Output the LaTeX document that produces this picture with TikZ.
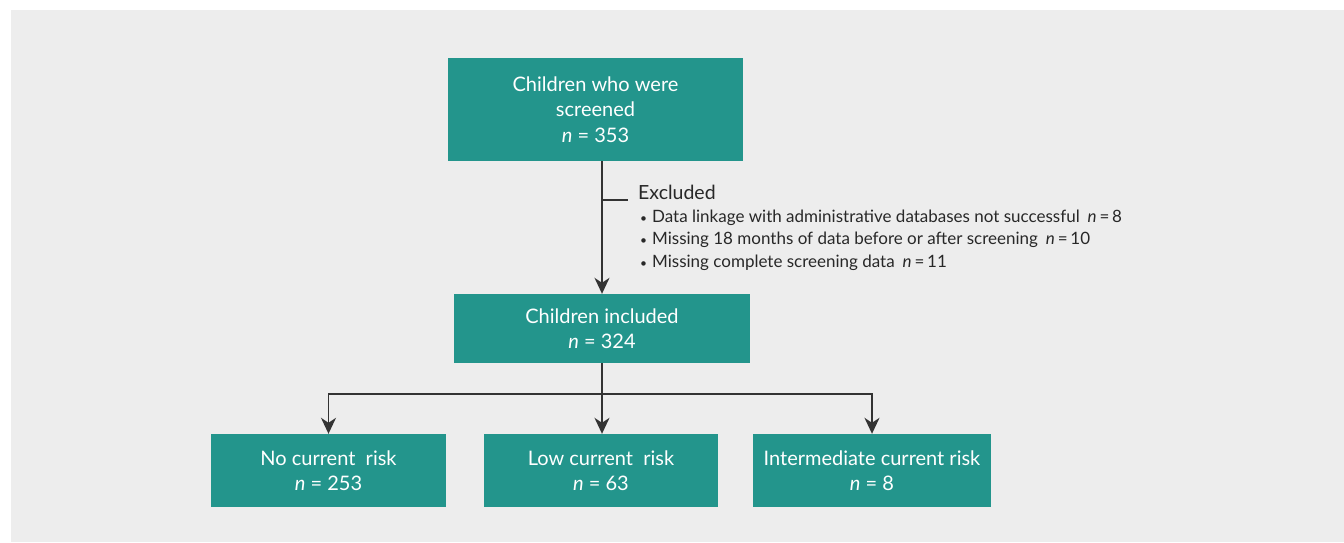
\documentclass[tikz,border=0pt]{standalone}
\usepackage{fontspec}
\setmainfont{Lato}
\usetikzlibrary{arrows.meta}
\definecolor{panelgray}{RGB}{237,237,237}
\definecolor{boxteal}{RGB}{35,149,140}
\definecolor{linegray}{RGB}{51,51,51}
\definecolor{txtgray}{RGB}{40,40,40}
\newcommand{\smallbul}{{\fontsize{12}{12}\selectfont\textbullet}}
\begin{document}
\begin{tikzpicture}[x=1pt,y=-1pt,
  box/.style={fill=boxteal, text=white, draw=none, inner sep=0pt, align=center,
    font=\fontsize{20}{25.5}\selectfont},
  conn/.style={draw=linegray, line width=1.8pt},
  arr/.style={conn, -{Stealth[length=16pt,width=15pt,inset=5pt]}},
  exhead/.style={anchor=base west, inner sep=0pt, text=txtgray, font=\fontsize{19.5}{24}\selectfont},
  exitem/.style={anchor=base west, inner sep=0pt, text=txtgray, font=\fontsize{17}{20}\selectfont}
]
\useasboundingbox (0,0) rectangle (1344,542);
\fill[panelgray] (11,10) rectangle (1344,542);

\node[box, minimum width=295pt, minimum height=103pt] (screened) at (595.5,109.5)
  {Children who were\\screened\\\textit{n} = 353};
\node[box, minimum width=296pt, minimum height=69pt] (included) at (602,328.5)
  {Children included\\\textit{n} = 324};
\node[box, minimum width=235pt, minimum height=73pt] (norisk) at (328.5,470.5)
  {No current\ \ risk\\\textit{n} = 253};
\node[box, minimum width=234pt, minimum height=73pt] (lowrisk) at (601,470.5)
  {Low current\ \ risk\\\textit{n} = 63};
\node[box, minimum width=238pt, minimum height=73pt] (interm) at (872,470.5)
  {Intermediate current risk\\\textit{n} = 8};

\node[exhead] (exclhead) at (638,199) {Excluded};
\node[exitem] (ex1) at (640,222) {\smallbul\hspace{5pt}Data linkage with administrative databases not successful\hspace{8pt}\textit{n}\,=\,8};
\node[exitem] (ex2) at (640,244.5) {\smallbul\hspace{5pt}Missing 18 months of data before or after screening\hspace{8pt}\textit{n}\,=\,10};
\node[exitem] (ex3) at (640,267) {\smallbul\hspace{5pt}Missing complete screening data\hspace{8pt}\textit{n}\,=\,11};

\coordinate (branch) at (602,200);
\coordinate (branchend) at (628,200);
\coordinate (split) at (602,394);

\draw[arr] (screened.south -| included.north) -- (included.north);
\draw[conn] (branch) -- (branchend);
\draw[conn] (included.south) -- (split);
\draw[arr] (split) -| (norisk.north);
\draw[arr] (split) -| (interm.north);
\draw[arr] (split) -- (split |- lowrisk.north);
\end{tikzpicture}
\end{document}
